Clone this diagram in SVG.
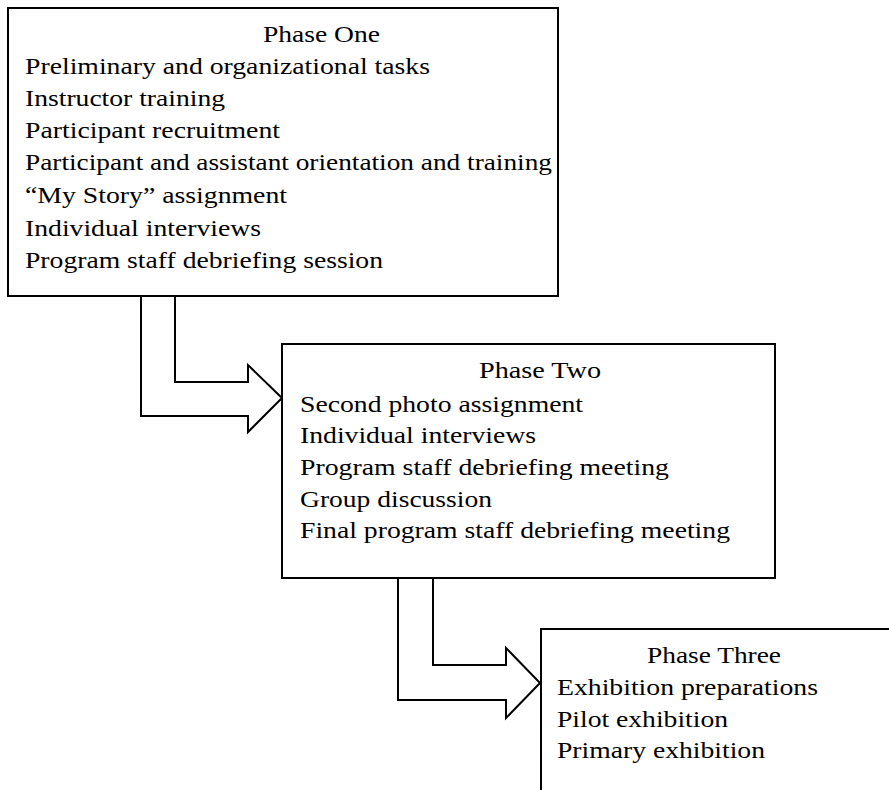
<svg xmlns="http://www.w3.org/2000/svg" width="889" height="790" viewBox="0 0 889 790">
<style>
.box{fill:#fff;stroke:#000;stroke-width:2}
.arr{fill:#fff;stroke:#000;stroke-width:2;stroke-linejoin:miter}
text{font-family:"Liberation Serif","Times New Roman",serif;font-size:24px;fill:#000}
</style>
<rect width="889" height="790" fill="#fff"/>
<g id="connectors">
<polyline class="arr" points="141,296 141,416 248,416 248,432 282,398 248,365 248,382 175,382 175,296"/>
<polyline class="arr" points="398,578 398,700 506,700 506,718 540,683 506,648 506,665 433,665 433,578"/>
</g>
<g id="phase1">
<rect class="box" x="8" y="8" width="550" height="288"/>
<text x="263" y="42" textLength="117" lengthAdjust="spacingAndGlyphs">Phase One</text>
<text x="25" y="74" textLength="405" lengthAdjust="spacingAndGlyphs">Preliminary and organizational tasks</text>
<text x="25" y="106" textLength="200" lengthAdjust="spacingAndGlyphs">Instructor training</text>
<text x="25" y="138" textLength="255" lengthAdjust="spacingAndGlyphs">Participant recruitment</text>
<text x="25" y="170" textLength="527" lengthAdjust="spacingAndGlyphs">Participant and assistant orientation and training</text>
<text x="25" y="203" textLength="262" lengthAdjust="spacingAndGlyphs">“My Story” assignment</text>
<text x="25" y="236" textLength="236" lengthAdjust="spacingAndGlyphs">Individual interviews</text>
<text x="25" y="268" textLength="358" lengthAdjust="spacingAndGlyphs">Program staff debriefing session</text>
</g>
<g id="phase2">
<rect class="box" x="282" y="344" width="493" height="234"/>
<text x="479" y="378" textLength="122" lengthAdjust="spacingAndGlyphs">Phase Two</text>
<text x="300" y="412" textLength="283" lengthAdjust="spacingAndGlyphs">Second photo assignment</text>
<text x="300" y="443" textLength="236" lengthAdjust="spacingAndGlyphs">Individual interviews</text>
<text x="300" y="475" textLength="369" lengthAdjust="spacingAndGlyphs">Program staff debriefing meeting</text>
<text x="300" y="507" textLength="192" lengthAdjust="spacingAndGlyphs">Group discussion</text>
<text x="300" y="538" textLength="430" lengthAdjust="spacingAndGlyphs">Final program staff debriefing meeting</text>
</g>
<g id="phase3">
<rect class="box" x="541" y="629" width="380" height="200"/>
<text x="647" y="663" textLength="134" lengthAdjust="spacingAndGlyphs">Phase Three</text>
<text x="557" y="695" textLength="261" lengthAdjust="spacingAndGlyphs">Exhibition preparations</text>
<text x="557" y="727" textLength="171" lengthAdjust="spacingAndGlyphs">Pilot exhibition</text>
<text x="557" y="758" textLength="208" lengthAdjust="spacingAndGlyphs">Primary exhibition</text>
</g>
</svg>
